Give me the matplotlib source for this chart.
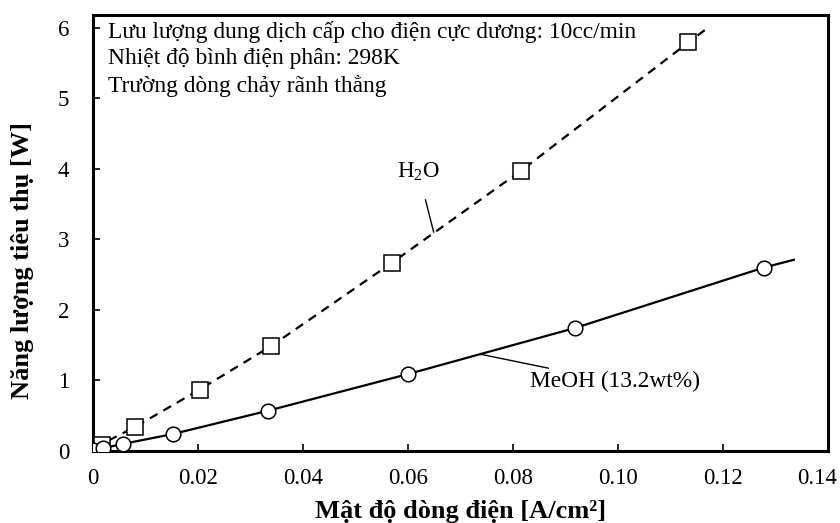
import numpy as np
import matplotlib.pyplot as plt
import matplotlib.transforms as mtransforms

# ---- data -----------------------------------------------------------
h2o_x = [0.0, 0.0017, 0.008, 0.0203, 0.034, 0.057, 0.0815, 0.1134]
h2o_y = [0.02, 0.09, 0.34, 0.87, 1.49, 2.67, 3.97, 5.79]

meoh_x = [0.0, 0.0019, 0.0057, 0.0152, 0.0333, 0.060, 0.0919, 0.1278]
meoh_y = [0.02, 0.04, 0.10, 0.24, 0.57, 1.09, 1.745, 2.60]

# trend lines as drawn in the figure (read at a few points)
h2o_fit_x = [0.003, 0.008, 0.0203, 0.034, 0.057, 0.0815, 0.1134, 0.1175]
h2o_fit_y = [0.15, 0.34, 0.87, 1.49, 2.67, 3.97, 5.79, 6.02]
meoh_fit_x = [0.0019, 0.0057, 0.0152, 0.0333, 0.060, 0.0919, 0.1278, 0.1335]
meoh_fit_y = [0.04, 0.10, 0.24, 0.57, 1.09, 1.745, 2.60, 2.71]

info_lines = [
    "Lưu lượng dung dịch cấp cho điện cực dương: 10cc/min",
    "Nhiệt độ bình điện phân: 298K",
    "Trường dòng chảy rãnh thẳng",
]
x_ticks = [0, 0.02, 0.04, 0.06, 0.08, 0.10, 0.12, 0.14]
x_tick_labels = ["0", "0.02", "0.04", "0.06", "0.08", "0.10", "0.12", "0.14"]
y_ticks = [0, 1, 2, 3, 4, 5, 6]

plt.rcParams["font.family"] = ["Liberation Serif", "DejaVu Serif"]
plt.rcParams["mathtext.fontset"] = "custom"
plt.rcParams["mathtext.rm"] = "Liberation Serif"
plt.rcParams["mathtext.it"] = "Liberation Serif:italic"
plt.rcParams["mathtext.bf"] = "Liberation Serif:bold"

fig = plt.figure(figsize=(8.4, 5.23), dpi=100)
ax = fig.add_axes([0.1107, 0.1377, 0.8750, 0.8337])

# -- curves -------------------------------------------------------------
ax.plot(h2o_fit_x, h2o_fit_y, color="black", linestyle=(0, (4, 3)),
        linewidth=1.6, zorder=2)
ax.plot(meoh_fit_x, meoh_fit_y, color="black", linestyle="-",
        linewidth=1.6, zorder=2)
ax.plot(h2o_x, h2o_y, linestyle="none", marker="s", markersize=11,
        markerfacecolor="white", markeredgecolor="black",
        markeredgewidth=1.1, zorder=3)
ax.plot(meoh_x, meoh_y, linestyle="none", marker="o", markersize=10.5,
        markerfacecolor="white", markeredgecolor="black",
        markeredgewidth=1.1, zorder=4)

# -- annotations ----------------------------------------------------------
ax.annotate("H$_2$O", xy=(0.0649, 3.10), xytext=(0.0620, 3.95),
            fontsize=16.5, ha="center", va="center",
            arrowprops=dict(arrowstyle="-", color="black", lw=1.0,
                            shrinkA=10, shrinkB=0))
ax.annotate("MeOH (13.2wt%)", xy=(0.0739, 1.37), xytext=(0.0832, 0.98),
            fontsize=16.8, ha="left", va="center",
            arrowprops=dict(arrowstyle="-", color="black", lw=1.0,
                            shrinkA=1, shrinkB=0))

for i, line in enumerate(info_lines):
    ax.text(0.021, 0.961 - i * 0.062, line, transform=ax.transAxes,
            fontsize=16.9, ha="left", va="center")

# -- axes -----------------------------------------------------------------
ax.set_xlim(0, 0.1395)
ax.set_ylim(0, 6.18)
ax.set_xticks(x_ticks)
ax.set_xticklabels(x_tick_labels)
ax.set_yticks(y_ticks)
ax.tick_params(direction="in", length=5, width=1.2, labelsize=16.5,
               top=False, right=False)
ax.tick_params(axis="x", pad=12)
ax.tick_params(axis="y", pad=17)
for s in ax.spines.values():
    s.set_linewidth(2.2)

# last x label sits a little inside the figure edge
last = ax.get_xticklabels()[-1]
last.set_transform(last.get_transform() +
                   mtransforms.ScaledTranslation(-11 / 100, 0,
                                                 fig.dpi_scale_trans))

ax.set_xlabel("Mật độ dòng điện [A/cm²]", fontsize=19,
              fontweight="bold", labelpad=8)
ax.set_ylabel("Năng lượng tiêu thụ [W]", fontsize=19, fontweight="bold")
ax.yaxis.set_label_coords(-0.080, 0.438)

fig.savefig("out.png", dpi=100)
